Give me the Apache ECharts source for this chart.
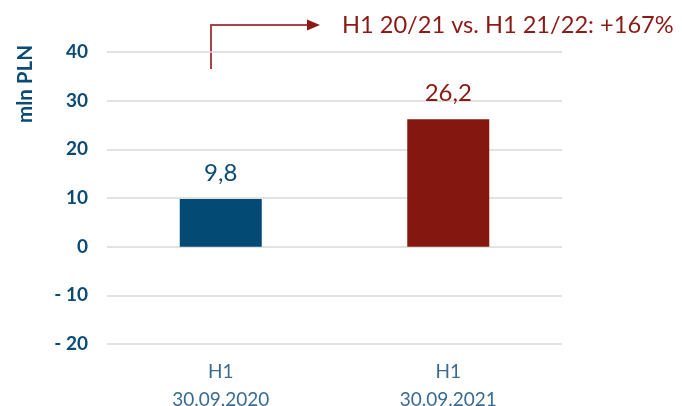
<!DOCTYPE html>
<html>
<head>
<meta charset="utf-8">
<script src="https://cdn.jsdelivr.net/npm/echarts@6/dist/echarts.min.js"></script>
<style>
html,body{margin:0;padding:0;background:#fff;}
#chart{width:682px;height:406px;}
</style>
</head>
<body>
<div id="chart"></div>
<script>
var categories = ['H1\n30.09.2020', 'H1\n30.09.2021'];
var values = [9.8, 26.2];
var barColors = ['#034A75', '#841811'];
var labelColors = ['#0B4B75', '#8B1A14'];
var yMin = -20, yMax = 40, yStep = 10;
var yAxisName = 'mln PLN';
var annotation = 'H1 20/21 vs. H1 21/22: +167%';

var FONT = 'Lato';
var chart = echarts.init(document.getElementById('chart'), null, {renderer: 'canvas'});
var option = {
  animation: false,
  backgroundColor: '#ffffff',
  title: {
    text: annotation,
    left: 337, top: 8,
    textStyle: {fontFamily: FONT, fontSize: 23.6, fontWeight: 'normal', color: '#8B1A14'}
  },
  grid: {left: 107, right: 120, top: 52, bottom: 62, containLabel: false, outerBoundsMode: 'none'},
  xAxis: {
    type: 'category',
    data: categories,
    axisLine: {show: false},
    axisTick: {show: false},
    axisLabel: {
      fontFamily: FONT, fontSize: 19, color: '#3A6B91', lineHeight: 28, margin: 14
    }
  },
  yAxis: {
    type: 'value',
    min: yMin, max: yMax, interval: yStep,
    axisLine: {show: false},
    axisTick: {show: false},
    splitLine: {lineStyle: {color: '#D9D9D9', width: 1.5}},
    axisLabel: {
      fontFamily: FONT, fontSize: 19, fontWeight: 'bold', color: '#0B4B75', margin: 19,
      formatter: function (v) { return v < 0 ? '- ' + Math.abs(v) : String(v); }
    }
  },
  series: [{
    type: 'bar',
    barWidth: 82,
    data: values.map(function (v, i) {
      return {
        value: v,
        itemStyle: {color: barColors[i]},
        label: {color: labelColors[i]}
      };
    }),
    label: {
      show: true, position: 'top', distance: 14,
      fontFamily: FONT, fontSize: 24, fontWeight: 'normal',
      formatter: function (p) { return String(p.value).replace('.', ','); }
    }
  }],
  graphic: [
    {
      type: 'text',
      x: 25, y: 84, rotation: Math.PI / 2,
      style: {
        text: yAxisName, fontFamily: FONT, fontSize: 20.5, fontWeight: 'bold',
        fill: '#0B4B75', align: 'center', verticalAlign: 'middle'
      }
    },
    {
      type: 'polyline',
      shape: {points: [[211, 69], [211, 25], [309, 25]]},
      style: {stroke: '#A64545', lineWidth: 2, fill: null}
    },
    {
      type: 'polygon',
      shape: {points: [[307, 19.5], [320, 25], [307, 30.5]]},
      style: {fill: '#8B1A14'}
    }
  ]
};
chart.setOption(option);
</script>
</body>
</html>
